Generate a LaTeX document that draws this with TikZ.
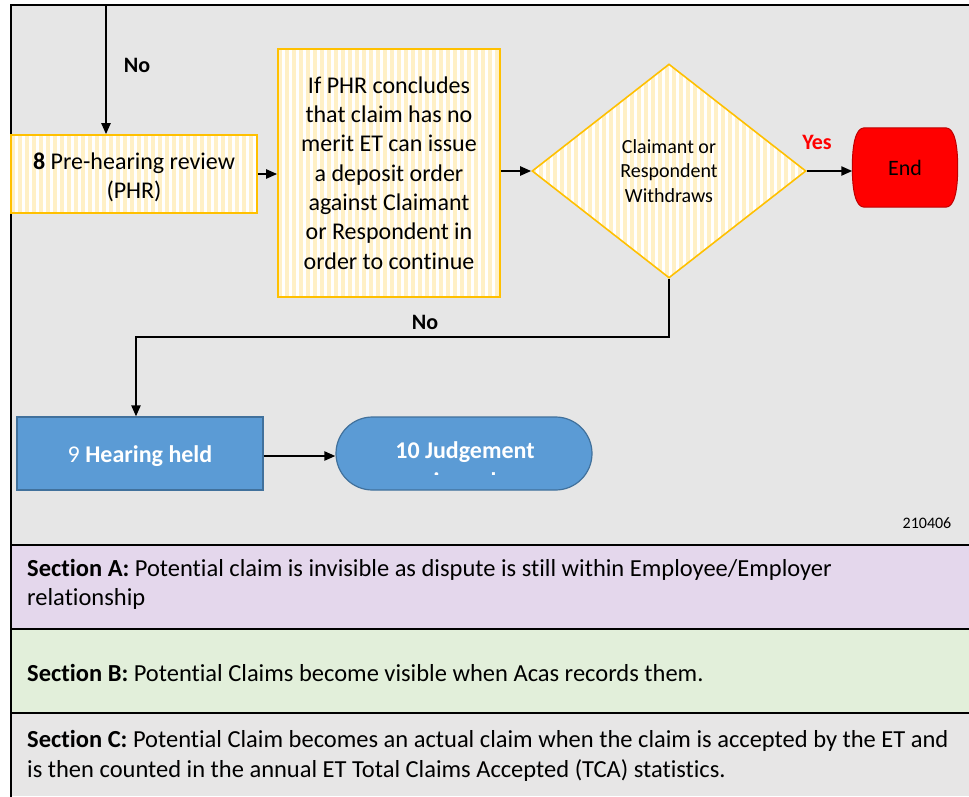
\documentclass[tikz,border=0pt]{standalone}
\usepackage{fontspec}
\setmainfont[Ligatures=NoCommon]{Carlito}
\usetikzlibrary{shapes.geometric,shapes.misc,arrows.meta}

\definecolor{panelgray}{HTML}{E6E6E6}
\definecolor{colA}{HTML}{E4D7EC}
\definecolor{colB}{HTML}{E2EFDA}
\definecolor{colC}{HTML}{E7E6E6}
\definecolor{boxorange}{HTML}{FFC000}
\definecolor{stripeyellow}{HTML}{FFF0C6}
\definecolor{stepblue}{HTML}{5B9BD5}
\definecolor{stepblueedge}{HTML}{41719C}
\definecolor{endred}{HTML}{FF0000}
\definecolor{endedge}{HTML}{C00000}
\definecolor{yesred}{HTML}{FF0000}

\newcommand\fsz[2]{\fontsize{#1}{#2}\selectfont}

\begin{document}
\begin{tikzpicture}[x=1pt,y=-1pt,
  stripes/.style={path picture={
      \fill[white] (path picture bounding box.south west) rectangle (path picture bounding box.north east);
      \foreach \i in {0,...,45}{
        \fill[stripeyellow] ([xshift=\i*7pt]path picture bounding box.south west)
          rectangle ([xshift=\i*7pt+3.5pt]path picture bounding box.north west);}
  }},
  yellowbox/.style={rectangle, draw=boxorange, line width=1.6pt, stripes,
      align=center, inner sep=0pt, font=\fsz{24}{29.3}},
  decision/.style={diamond, draw=boxorange, line width=1.6pt, stripes,
      align=center, inner sep=0pt, font=\fsz{20}{24.5}},
  bluebox/.style={rectangle, draw=stepblueedge, fill=stepblue, line width=1.2pt,
      text=white, align=center, inner sep=0pt, font=\fsz{24}{29.3}},
  terminal/.style={rounded rectangle, draw=stepblueedge, fill=stepblue, line width=1.2pt,
      inner sep=0pt},
  boxtext/.style={text=white, inner sep=0pt, font=\fsz{24}{29.3}},
  conn/.style={line width=2.2pt, -{Triangle[length=11pt,width=9pt]}},
  lbl/.style={font=\fsz{22}{26}\bfseries, inner sep=0pt},
  frameline/.style={line width=2pt, line cap=rect},
  sectiontext/.style={anchor=west, align=left, inner sep=0pt, font=\fsz{24.5}{29.3}},
]
\useasboundingbox (0,0) rectangle (969,796);

% panels
\fill[panelgray] (11,5) rectangle (969,545);
\fill[colA] (11,545) rectangle (969,629);
\fill[colB] (11,629) rectangle (969,713);
\fill[colC] (11,713) rectangle (969,796);
\draw[frameline] (969,5) -- (11,5) -- (11,796);
\draw[frameline] (11,545) -- (969,545);
\draw[frameline] (11,629) -- (969,629);
\draw[frameline] (11,713) -- (969,713);

% flow nodes
\node[yellowbox, minimum width=246pt, minimum height=78pt] (phr) at (134,174) {};
\node[inner sep=0pt, align=center, font=\fsz{24}{29.3}] (phrtext) at (134,177)
  {\textbf{8} Pre-hearing review\\(PHR)};
\node[yellowbox, minimum width=222pt, minimum height=248pt] (deposit) at (389,173)
  {If PHR concludes\\that claim has no\\merit ET can issue\\a deposit order\\against Claimant\\or Respondent in\\order to continue};
\node[decision, minimum width=274pt, minimum height=214pt] (withdraw) at (669,171)
  {Claimant or\\Respondent\\Withdraws};

% end terminator: flat top and bottom, shallow bulging sides
\node[minimum width=105pt, minimum height=79pt, inner sep=0pt] (end) at (905,167.5) {};
\draw[draw=endedge, fill=endred, line width=1pt]
  ([xshift=12pt]end.north west)
    .. controls ([xshift=3pt]end.north west) and ([yshift=22pt]end.west) .. (end.west)
    .. controls ([yshift=-22pt]end.west) and ([xshift=3pt]end.south west) .. ([xshift=12pt]end.south west)
  -- ([xshift=-12pt]end.south east)
    .. controls ([xshift=-3pt]end.south east) and ([yshift=-22pt]end.east) .. (end.east)
    .. controls ([yshift=22pt]end.east) and ([xshift=-3pt]end.north east) .. ([xshift=-12pt]end.north east)
  -- cycle;
\node[inner sep=0pt, font=\fsz{22}{26}] (endtext) at (end.center) {End};

\node[bluebox, minimum width=246pt, minimum height=73pt] (hearing) at (140,453.5) {};
\node[boxtext] (hearingtext) at (140,456) {9 \textbf{Hearing held}};
\node[terminal, minimum width=256pt, minimum height=73pt] (judgement) at (464,453.5) {};
\node[boxtext, font=\fsz{24}{29.3}\bfseries] (judgetext) at (465,452.5) {10 Judgement};
\begin{scope}
  \clip (400,462) rectangle (530,474.5);
  \node[boxtext, font=\fsz{24}{29.3}\bfseries] (judgetext2) at (465,481.5) {issued};
\end{scope}

% labels
\node[lbl] (no1) at (137,65) {No};
\node[lbl, text=yesred] (yes) at (817,142) {Yes};
\node[lbl] (no2) at (425,322) {No};
\node[font=\fsz{16}{19}, inner sep=0pt] (ref) at (927,523) {210406};

% connectors
\coordinate (topin) at (106,5);
\coordinate (bend) at (136,337);
\draw[conn] (topin) -- (topin |- phr.north);
\draw[conn] (phr.east) -- (phr.east -| deposit.west);
\draw[conn] (deposit.east |- withdraw.west) -- (withdraw.west);
\draw[conn] (withdraw.east) -- (withdraw.east -| end.west);
\draw[conn] (withdraw.south) |- (bend) -- (bend |- hearing.north);
\draw[conn] (hearing.east |- 0,456) -- (judgement.west |- 0,456);

% section notes
\node[sectiontext] (secA) at (27,584.5)
  {\textbf{Section A:} Potential claim is invisible as dispute is still within Employee/Employer\\relationship};
\node[sectiontext] (secB) at (27,673)
  {\textbf{Section B:} Potential Claims become visible when Acas records them.};
\node[sectiontext] (secC) at (27,756)
  {\textbf{Section C:} Potential Claim becomes an actual claim when the claim is accepted by the ET and\\is then counted in the annual ET Total Claims Accepted (TCA) statistics.};
\end{tikzpicture}
\end{document}
